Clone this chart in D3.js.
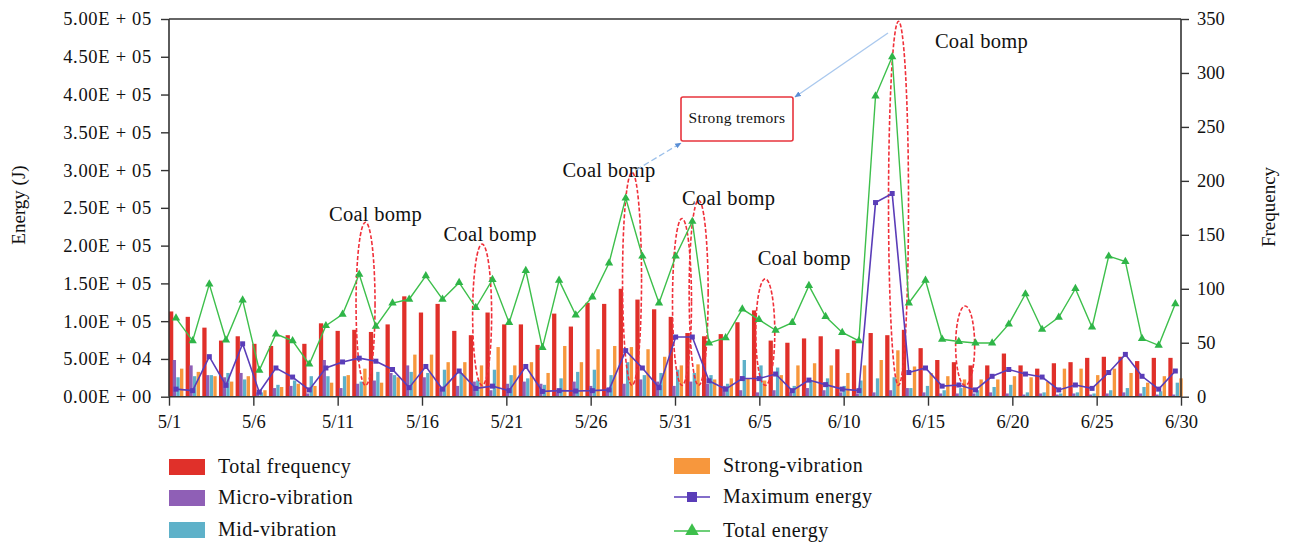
<!DOCTYPE html>
<html>
<head>
<meta charset="utf-8">
<script src="https://cdn.jsdelivr.net/npm/d3@7"></script>
<style>
  body { margin: 0; background: #fff; }
  text { font-family: "Liberation Serif", "Times New Roman", serif; fill: #111; }
</style>
</head>
<body>
<svg id="chart" width="1289" height="544"></svg>
<script>
// days 5/1 .. 6/30
const days = [
  "5/1","5/2","5/3","5/4","5/5","5/6","5/7","5/8","5/9","5/10","5/11","5/12","5/13","5/14","5/15","5/16",
  "5/17","5/18","5/19","5/20","5/21","5/22","5/23","5/24","5/25","5/26","5/27","5/28","5/29","5/30","5/31",
  "6/1","6/2","6/3","6/4","6/5","6/6","6/7","6/8","6/9","6/10","6/11","6/12","6/13","6/14","6/15",
  "6/16","6/17","6/18","6/19","6/20","6/21","6/22","6/23","6/24","6/25","6/26","6/27","6/28","6/29","6/30"
];
const xTickLabels = ["5/1","5/6","5/11","5/16","5/21","5/26","5/31","6/5","6/10","6/15","6/20","6/25","6/30"];
const energyTicks = [0, 50000, 100000, 150000, 200000, 250000, 300000, 350000, 400000, 450000, 500000];
const freqTicks = [0, 50, 100, 150, 200, 250, 300, 350];

// frequency series (right axis)
const totalFreq = [79,74,64,52,56,49,47,57,49,68,61,62,60,67,93,78,86,61,57,78,67,67,48,77,65,
  87,86,100,90,81,74,59,56,58,69,80,52,50,54,56,44,52,59,57,62,45,34,32,29,29,40,29,26,31,32,36,37,37,33,36,36];
const microVib = [34,29,20,18,22,4,8,10,3,34,8,12,15,22,29,18,8,10,14,6,12,14,12,4,14,
  10,8,12,16,14,10,14,12,10,6,4,6,4,8,6,4,3,4,6,8,4,3,3,3,4,3,2,3,2,3,2,3,4,3,2,2];
const midVib = [18,19,20,22,16,4,11,15,19,19,19,14,23,20,23,22,25,22,15,25,20,17,11,17,23,
  25,20,32,20,22,25,22,20,12,34,29,27,10,15,17,10,15,17,18,8,10,6,8,6,9,11,4,4,3,4,3,6,8,9,5,13];
const strongVib = [26,23,19,14,19,6,9,12,10,13,20,26,13,18,39,39,32,32,29,46,29,32,22,47,32,
  44,47,46,44,37,29,30,16,17,17,15,20,29,31,29,22,29,34,43,28,22,19,16,16,16,19,18,14,26,26,20,26,22,13,19,17];

// energy series (left axis, J)
const maxEnergy = [10000,8000,53000,15000,70000,6000,38000,26000,9000,38000,46000,51000,
  47000,36000,12000,40000,10000,34000,11000,14000,8000,40000,7000,8000,7500,
  8000,9000,61000,38000,12000,79000,79000,21000,10000,24000,24000,30000,
  8000,22000,16000,10000,8000,257000,269000,32000,38000,14000,15500,9000,
  27000,36000,30000,26000,9000,15500,11000,32000,56000,27000,10000,34000];
const totalEnergy = [104000,74000,149000,75000,128000,35000,83000,74000,43000,94000,109000,162000,
  93000,124000,129000,160000,129000,151000,118000,155000,98000,167000,65000,154000,108000,
  132000,177000,263000,186000,124000,186000,232000,71000,78000,116000,102000,88000,
  98000,147000,106000,85000,74000,398000,450000,124000,154000,76000,73000,71000,
  71000,96000,136000,89000,105000,143000,92000,186000,179000,77000,68000,123000];

// coal bump marks: day, top of ellipse in J
const bumpDays = ["5/12","5/19","5/28","5/31","6/1","6/5","6/13","6/17"];
const bumpTops = [231000,202000,297000,236000,260000,156000,497000,120000];
const bumpLabels = ["Coal bomp","Coal bomp","Coal bomp","","Coal bomp","Coal bomp","Coal bomp",""];

const colors = {
  total: "#e0302a", micro: "#8f5fb6", mid: "#5eb1c9", strong: "#f7973d",
  maxE: "#5a3db8", totE: "#3dbf4b"
};

const svg = d3.select("#chart");
const pLeft = 169, pRight = 1181, pTop = 19, pBottom = 396.7;

const xTick = d3.scalePoint().domain(days).range([pLeft, pRight]);
const xb = d3.scaleBand().domain(days).range([pLeft, 1185]).paddingInner(0);
const xs = d3.scaleBand().domain(["total","micro","mid","strong"]).range([0, xb.step() * 0.88]);
const yE = d3.scaleLinear().domain([0, 500000]).range([pBottom, pTop]);
const yF = d3.scaleLinear().domain([0, 350]).range([pBottom, pTop]);

// bars
const barSeries = [
  {key: "total", vals: totalFreq},
  {key: "micro", vals: microVib},
  {key: "mid", vals: midVib},
  {key: "strong", vals: strongVib}
];
const gBars = svg.append("g");
barSeries.forEach(s => {
  gBars.selectAll("rect." + s.key)
    .data(s.vals)
    .enter().append("rect")
      .attr("class", s.key)
      .attr("x", (d, i) => xb(days[i]) + xs(s.key))
      .attr("width", s.key === "total" ? xs.bandwidth() + 0.6 : xs.bandwidth() - 0.3)
      .attr("y", d => yF(d))
      .attr("height", d => pBottom - yF(d))
      .style("fill", colors[s.key]);
});

const cx = i => xb(days[i]) + xb.step() * 0.42;

// ellipses (red dashed)
svg.append("g").selectAll("ellipse")
  .data(bumpDays)
  .enter().append("ellipse")
    .attr("cx", d => xb(d) + xb.step() * 0.8)
    .attr("cy", (d, i) => (yE(bumpTops[i]) + yE(15000)) / 2)
    .attr("rx", (d, i) => i === 6 ? 10 : 9.5)
    .attr("ry", (d, i) => (yE(15000) - yE(bumpTops[i])) / 2)
    .style("fill", "none")
    .style("stroke", "#f0303a")
    .style("stroke-width", 1.6)
    .style("stroke-dasharray", "4,2");

// lines
const lineMax = d3.line().x((d, i) => cx(i)).y(d => yE(d));
svg.append("path").datum(maxEnergy)
  .attr("d", lineMax)
  .style("fill", "none").style("stroke", colors.maxE).style("stroke-width", 1.6);
svg.append("g").selectAll("rect")
  .data(maxEnergy)
  .enter().append("rect")
    .attr("x", (d, i) => cx(i) - 2.5)
    .attr("y", d => yE(d) - 2.5)
    .attr("width", 5).attr("height", 5)
    .style("fill", colors.maxE);

svg.append("path").datum(totalEnergy)
  .attr("d", lineMax)
  .style("fill", "none").style("stroke", colors.totE).style("stroke-width", 1.4);
const tri = d3.symbol().type(d3.symbolTriangle).size(30);
svg.append("g").selectAll("path")
  .data(totalEnergy)
  .enter().append("path")
    .attr("d", tri)
    .attr("transform", (d, i) => `translate(${cx(i)},${yE(d)})`)
    .style("fill", "#2fb548");

// coal bomp labels
const labelOffsets = [[10, -1], [8, -3], [-23, 5], [0, 0], [30, 5], [39, -14], [83, 27], [0, 0]];
svg.append("g").selectAll("text")
  .data(bumpDays)
  .enter().append("text")
    .attr("x", (d, i) => xb(d) + xb.step() * 0.8 + labelOffsets[i][0])
    .attr("y", (d, i) => yE(bumpTops[i]) + labelOffsets[i][1])
    .attr("text-anchor", "middle")
    .style("font-size", "20.5px")
    .style("letter-spacing", "0.3px")
    .text((d, i) => bumpLabels[i]);

// strong tremors callout
const defs = svg.append("defs");
defs.append("marker")
  .attr("id", "arr").attr("viewBox", "0 0 10 10")
  .attr("refX", 9).attr("refY", 5)
  .attr("markerWidth", 5).attr("markerHeight", 5)
  .attr("orient", "auto")
  .append("path").attr("d", "M0,1 L10,5 L0,9 Z").style("fill", "#5a8fd6");
svg.append("line")
  .attr("x1", 636).attr("y1", 170).attr("x2", 681).attr("y2", 143)
  .style("stroke", "#9cc0ea").style("stroke-width", 1.3).style("stroke-dasharray", "6,3")
  .attr("marker-end", "url(#arr)");
svg.append("line")
  .attr("x1", 888).attr("y1", 33).attr("x2", 795).attr("y2", 97)
  .style("stroke", "#a9c8ee").style("stroke-width", 1.3)
  .attr("marker-end", "url(#arr)");
svg.append("rect")
  .attr("x", 681).attr("y", 97).attr("width", 112).attr("height", 44).attr("rx", 2)
  .style("fill", "#fff").style("stroke", "#e8343c").style("stroke-width", 1.6);
svg.append("text")
  .attr("x", 737).attr("y", 123).attr("text-anchor", "middle")
  .style("font-size", "15.5px").style("letter-spacing", "0.3px").text("Strong tremors");

// axes
const axL = svg.append("g").attr("transform", `translate(${pLeft},0)`)
  .call(d3.axisLeft(yE).tickValues(energyTicks).tickSize(8).tickPadding(9)
    .tickFormat(d => {
      const s = d3.format(".2e")(d).split("e");
      const e = +s[1];
      return `${s[0].toUpperCase()}E + ${String(Math.abs(e)).padStart(2, "0")}`;
    }));
const axR = svg.append("g").attr("transform", `translate(${pRight},0)`)
  .call(d3.axisRight(yF).tickValues(freqTicks).tickSize(8).tickPadding(8));
const axB = svg.append("g").attr("transform", `translate(0,${pBottom})`)
  .call(d3.axisBottom(xTick).tickValues(xTickLabels).tickSize(9).tickPadding(9));
[axL, axR, axB].forEach(a => {
  a.selectAll("path.domain").style("stroke", "#333").style("stroke-width", 1.6);
  a.selectAll(".tick line").style("stroke", "#333").style("stroke-width", 1.4);
  a.selectAll(".tick text").style("font-size", "18.5px")
    .style("font-family", '"Liberation Serif", serif').style("fill", "#111");
});
axL.selectAll(".tick text").style("letter-spacing", "0.7px");
axL.select("path.domain").attr("d", `M0,${pBottom}V${pTop}`);
axR.select("path.domain").attr("d", `M0,${pBottom}V${pTop}`);
axB.select("path.domain").attr("d", `M${pLeft},0H${pRight}`);
svg.append("line")
  .attr("x1", pLeft).attr("x2", pRight).attr("y1", pTop).attr("y2", pTop)
  .style("stroke", "#333").style("stroke-width", 1.6);

svg.append("text")
  .attr("transform", "translate(25,205) rotate(-90)")
  .attr("text-anchor", "middle").style("font-size", "19px").text("Energy (J)");
svg.append("text")
  .attr("transform", "translate(1275,207) rotate(-90)")
  .attr("text-anchor", "middle").style("font-size", "19px").text("Frequency");

// legend
const legendItems = [
  {name: "Total frequency", type: "bar", color: colors.total, x: 169, y: 467},
  {name: "Micro-vibration", type: "bar", color: colors.micro, x: 169, y: 498},
  {name: "Mid-vibration", type: "bar", color: colors.mid, x: 169, y: 530},
  {name: "Strong-vibration", type: "bar", color: colors.strong, x: 674, y: 466},
  {name: "Maximum energy", type: "square", color: colors.maxE, x: 674, y: 497},
  {name: "Total energy", type: "tri", color: colors.totE, x: 674, y: 531}
];
const lg = svg.append("g").selectAll("g")
  .data(legendItems).enter().append("g")
  .attr("transform", d => `translate(${d.x},${d.y})`);
lg.filter(d => d.type === "bar").append("rect")
  .attr("x", 0).attr("y", -8).attr("width", 36).attr("height", 16)
  .style("fill", d => d.color);
lg.filter(d => d.type !== "bar").append("line")
  .attr("x1", 0).attr("x2", 36).attr("y1", 0).attr("y2", 0)
  .style("stroke", d => d.color).style("stroke-width", 1.6);
lg.filter(d => d.type === "square").append("rect")
  .attr("x", 13).attr("y", -5).attr("width", 10).attr("height", 10)
  .style("fill", d => d.color);
lg.filter(d => d.type === "tri").append("path")
  .attr("d", d3.symbol().type(d3.symbolTriangle).size(80))
  .attr("transform", "translate(18,0)")
  .style("fill", d => d.color);
lg.append("text")
  .attr("x", 49).attr("y", 6)
  .style("font-size", "20px")
  .style("letter-spacing", "0.5px")
  .text(d => d.name);
</script>
</body>
</html>
